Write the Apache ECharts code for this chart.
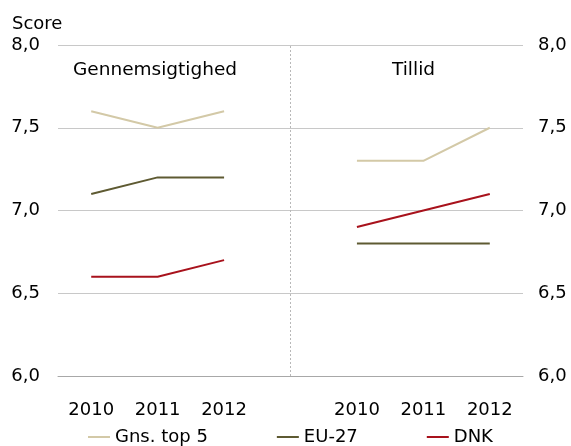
<!DOCTYPE html>
<html>
<head>
<meta charset="utf-8">
<script src="https://cdn.jsdelivr.net/npm/echarts@6/dist/echarts.min.js"></script>
<style>
  html, body { margin: 0; padding: 0; background: #fff; }
  #chart { width: 571px; height: 446px; }
</style>
</head>
<body>
<div id="chart"></div>
<script>
// 4th category is an empty spacer between the two panels
const years = ['2010', '2011', '2012', '', '2010', '2011', '2012']
const gnsTop5 = [7.6, 7.5, 7.6, null, 7.3, 7.3, 7.5]
const eu27 = [7.1, 7.2, 7.2, null, 6.8, 6.8, 6.8]
const dnk = [6.6, 6.6, 6.7, null, 6.9, 7.0, 7.1]
const panels = ['Gennemsigtighed', 'Tillid']

const font = 'DejaVu Sans'
const size = 18
const fmt = (v) => v.toFixed(1).replace('.', ',')

const chart = echarts.init(document.getElementById('chart'))

const yCommon = {
  type: 'value',
  min: 6,
  max: 8,
  interval: 0.5,
  axisLine: { show: false },
  axisTick: { show: false },
  axisLabel: { color: '#000', fontFamily: font, fontSize: size, formatter: fmt }
}

chart.setOption({
  animation: false,
  textStyle: { fontFamily: font },
  title: {
    text: 'Score',
    left: 7,
    top: 10,
    textStyle: { color: '#000', fontFamily: font, fontSize: size, fontWeight: 'normal' }
  },
  grid: { left: 58, right: 48, top: 45, bottom: 70 },
  legend: {
    left: 88,
    bottom: 0,
    padding: 0,
    itemGap: 69,
    itemWidth: 22,
    itemHeight: 2,
    icon: 'rect',
    textStyle: { color: '#000', fontFamily: font, fontSize: size },
    data: ['Gns. top 5', 'EU-27', 'DNK']
  },
  graphic: [
    {
      type: 'text', left: 73, top: 61,
      style: { text: panels[0], fill: '#000', font: '18.5px "DejaVu Sans"' }
    },
    {
      type: 'text', left: 392, top: 61,
      style: { text: panels[1], fill: '#000', font: '18.5px "DejaVu Sans"' }
    }
  ],
  xAxis: {
    type: 'category',
    data: years,
    axisLine: { lineStyle: { color: '#a8a8a8' } },
    axisTick: { lineStyle: { color: '#a8a8a8' }, length: 6 },
    axisLabel: { color: '#000', fontFamily: font, fontSize: size, margin: 25 }
  },
  yAxis: [
    Object.assign({}, yCommon, {
      axisLabel: Object.assign({}, yCommon.axisLabel, { margin: 18 }),
      splitLine: { lineStyle: { color: '#c8c8c8' } }
    }),
    Object.assign({}, yCommon, {
      position: 'right',
      axisLabel: Object.assign({}, yCommon.axisLabel, { margin: 15 }),
      splitLine: { show: false }
    })
  ],
  series: [
    {
      name: 'Gns. top 5',
      type: 'line',
      data: gnsTop5,
      showSymbol: false,
      lineStyle: { width: 2, color: '#d3c9a7' },
      itemStyle: { color: '#d3c9a7' },
      markLine: {
        silent: true,
        symbol: 'none',
        label: { show: false },
        lineStyle: { color: '#b8b8b8', type: [2, 2], width: 1 },
        data: [{ xAxis: 3 }]
      }
    },
    {
      name: 'EU-27',
      type: 'line',
      data: eu27,
      showSymbol: false,
      lineStyle: { width: 2, color: '#5e5a32' },
      itemStyle: { color: '#5e5a32' }
    },
    {
      name: 'DNK',
      type: 'line',
      data: dnk,
      showSymbol: false,
      lineStyle: { width: 2, color: '#a8121c' },
      itemStyle: { color: '#a8121c' }
    }
  ]
})
</script>
</body>
</html>
